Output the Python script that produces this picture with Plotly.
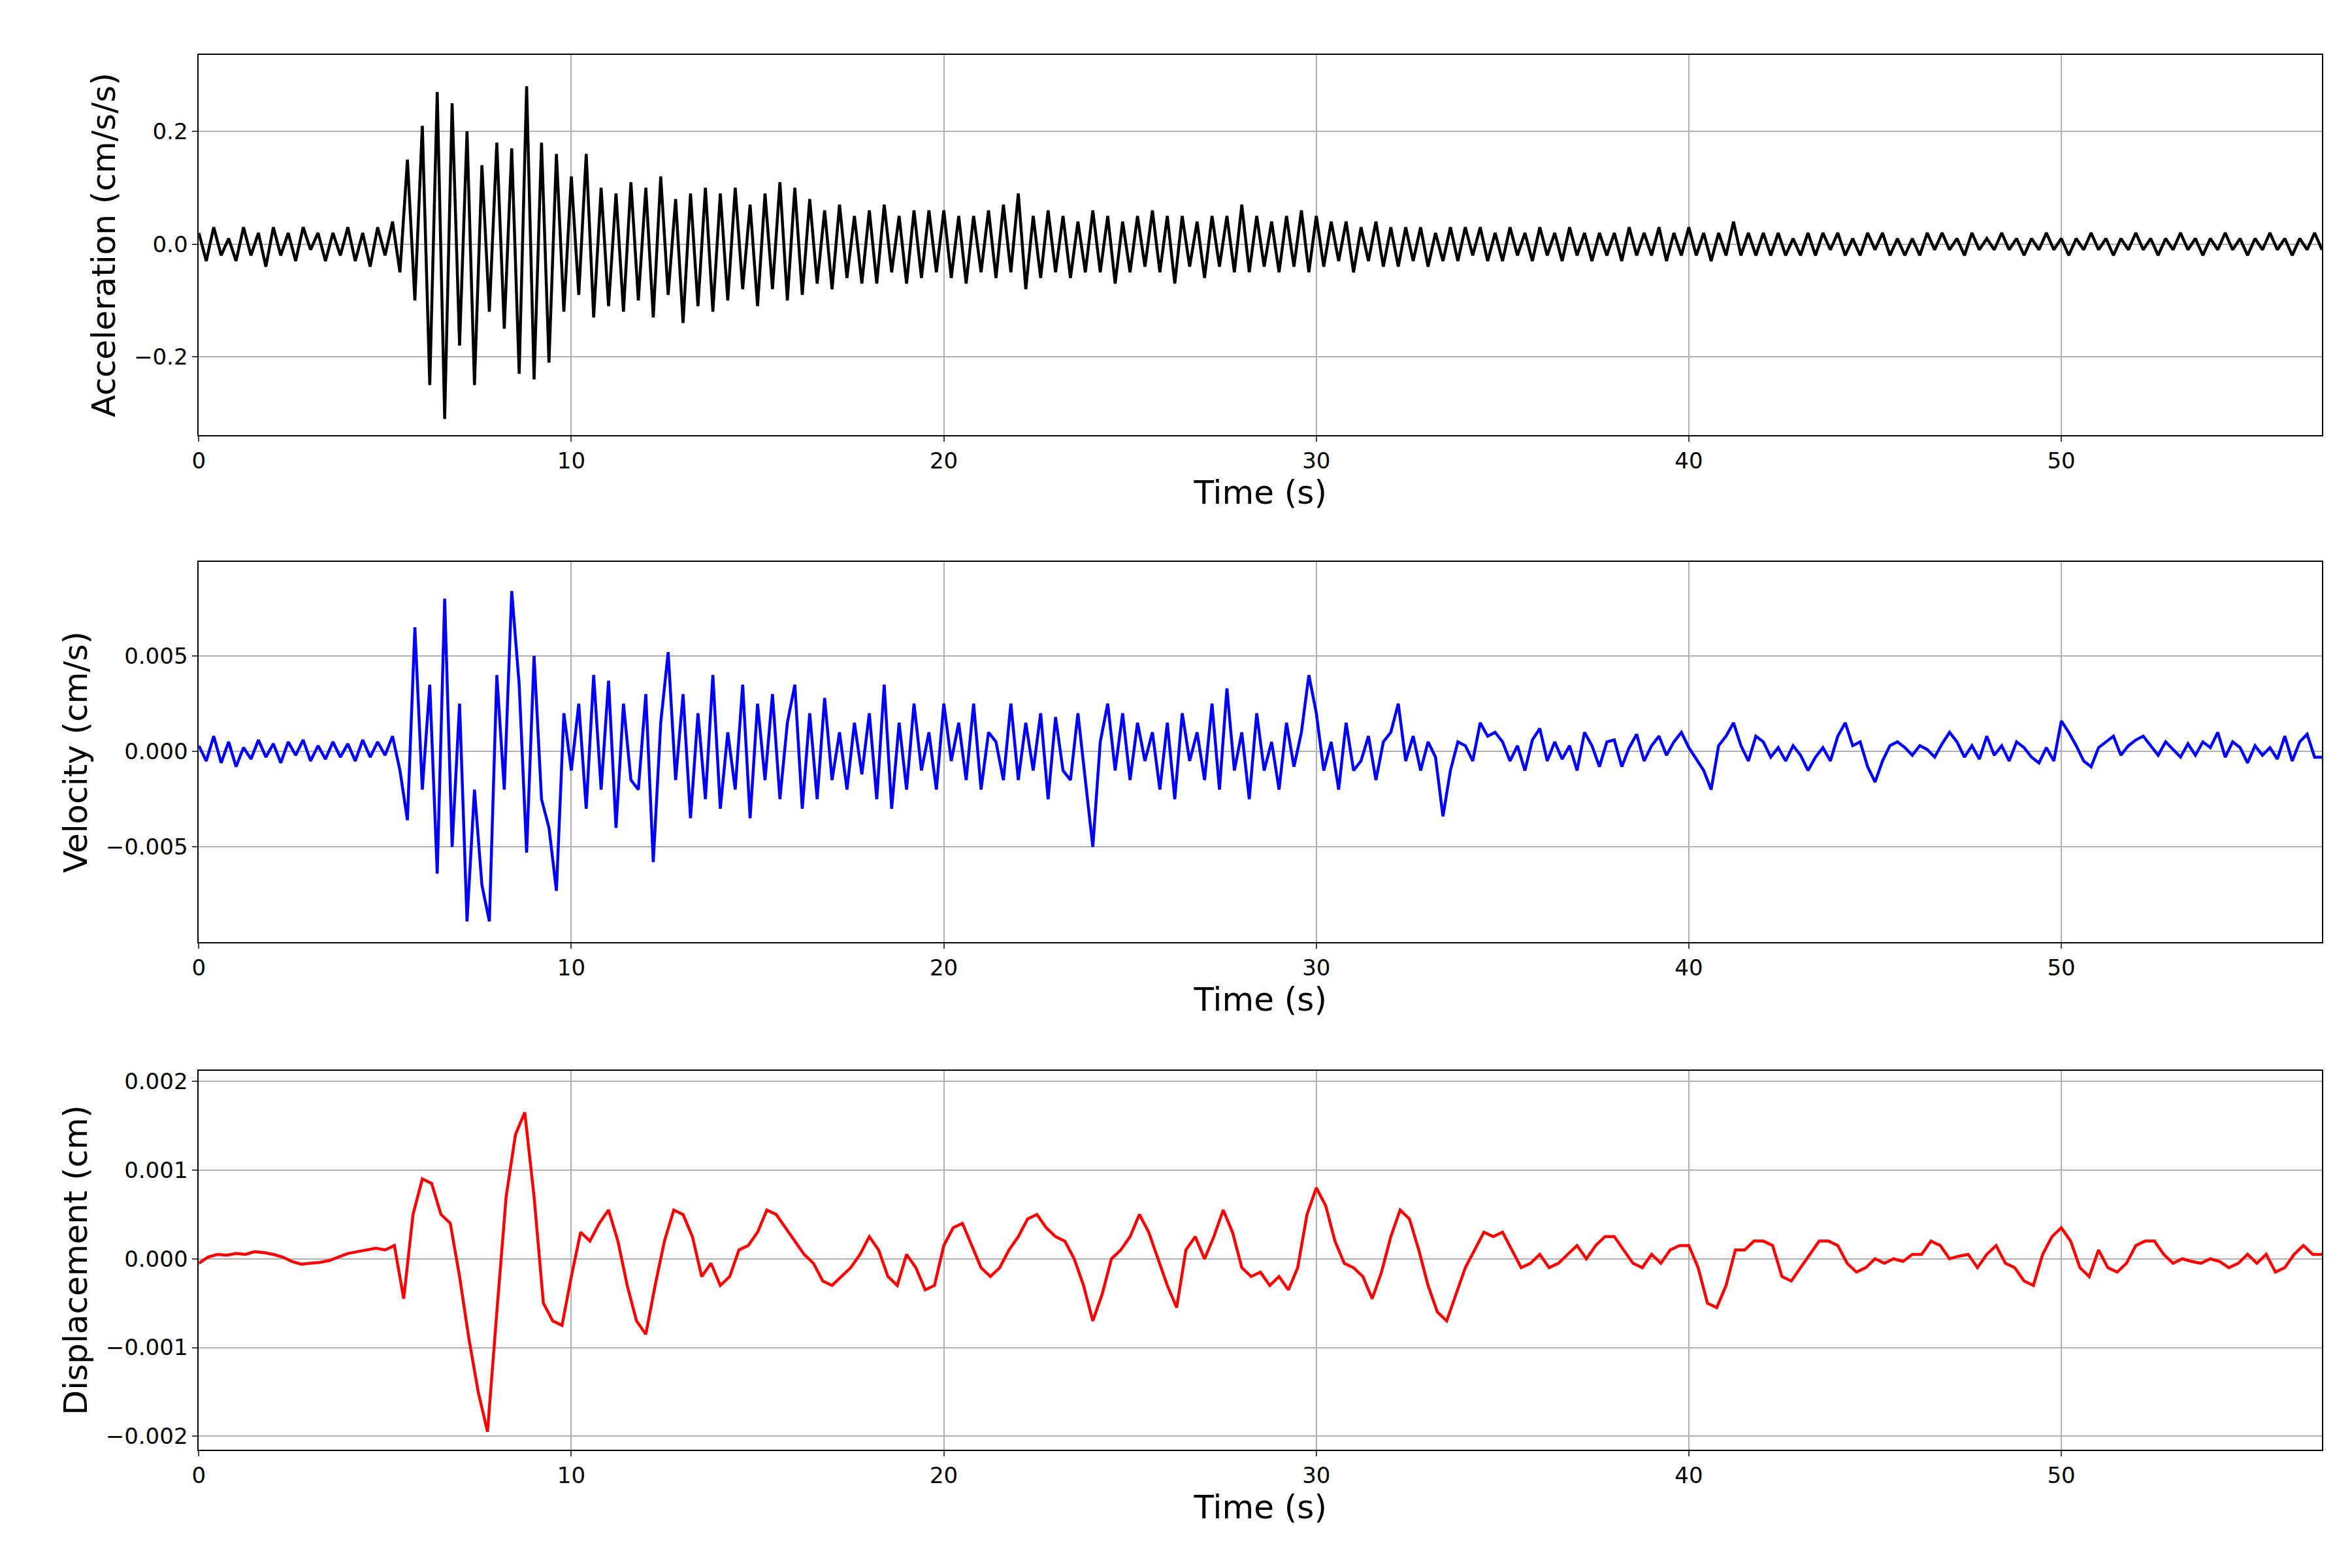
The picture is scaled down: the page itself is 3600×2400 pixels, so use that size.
import numpy as np
import plotly.graph_objects as go

acc = [0.02,-0.03,0.03,-0.02,0.01,-0.03,0.03,-0.02,0.02,-0.04,
0.03,-0.02,0.02,-0.03,0.03,-0.01,0.02,-0.03,0.02,-0.02,
0.03,-0.03,0.02,-0.04,0.03,-0.02,0.04,-0.05,0.15,-0.10,
0.21,-0.25,0.27,-0.31,0.25,-0.18,0.20,-0.25,0.14,-0.12,
0.18,-0.15,0.17,-0.23,0.28,-0.24,0.18,-0.21,0.16,-0.12,
0.12,-0.09,0.16,-0.13,0.10,-0.11,0.09,-0.12,0.11,-0.10,
0.10,-0.13,0.12,-0.09,0.08,-0.14,0.09,-0.11,0.10,-0.12,
0.09,-0.10,0.10,-0.08,0.07,-0.11,0.09,-0.08,0.11,-0.10,
0.10,-0.09,0.08,-0.07,0.06,-0.08,0.07,-0.06,0.05,-0.07,
0.06,-0.07,0.07,-0.05,0.05,-0.07,0.06,-0.06,0.06,-0.05,
0.06,-0.06,0.05,-0.07,0.05,-0.05,0.06,-0.06,0.07,-0.05,
0.09,-0.08,0.05,-0.06,0.06,-0.05,0.05,-0.06,0.04,-0.05,
0.06,-0.05,0.05,-0.07,0.04,-0.05,0.05,-0.04,0.06,-0.05,
0.05,-0.07,0.05,-0.04,0.04,-0.06,0.05,-0.04,0.05,-0.05,
0.07,-0.05,0.05,-0.04,0.04,-0.05,0.05,-0.04,0.06,-0.05,
0.05,-0.04,0.04,-0.03,0.04,-0.05,0.03,-0.03,0.04,-0.04,
0.03,-0.04,0.03,-0.03,0.03,-0.04,0.02,-0.03,0.03,-0.03,
0.03,-0.02,0.03,-0.03,0.02,-0.03,0.03,-0.02,0.02,-0.03,
0.03,-0.02,0.02,-0.03,0.03,-0.02,0.02,-0.03,0.02,-0.02,
0.02,-0.03,0.03,-0.02,0.02,-0.02,0.03,-0.03,0.02,-0.02,
0.03,-0.02,0.02,-0.03,0.02,-0.02,0.04,-0.02,0.02,-0.02,
0.02,-0.02,0.02,-0.02,0.01,-0.02,0.02,-0.02,0.02,-0.01,
0.02,-0.02,0.01,-0.02,0.02,-0.01,0.02,-0.02,0.01,-0.02,
0.01,-0.02,0.02,-0.01,0.02,-0.01,0.01,-0.02,0.02,-0.01,
0.01,-0.01,0.02,-0.01,0.01,-0.02,0.01,-0.01,0.02,-0.01,
0.01,-0.02,0.01,-0.01,0.02,-0.01,0.01,-0.02,0.01,-0.01,
0.02,-0.01,0.01,-0.02,0.01,-0.01,0.02,-0.01,0.01,-0.02,
0.01,-0.01,0.02,-0.01,0.01,-0.02,0.01,-0.01,0.02,-0.01,
0.01,-0.02,0.01,-0.01,0.02,-0.01]

vel_milli = [0.3,-0.5,0.8,-0.6,0.5,-0.8,0.2,-0.4,0.6,-0.3,
0.4,-0.6,0.5,-0.2,0.6,-0.5,0.3,-0.4,0.5,-0.3,
0.4,-0.5,0.6,-0.3,0.5,-0.2,0.8,-1.0,-3.6,6.5,
-2.0,3.5,-6.4,8.0,-5.0,2.5,-8.9,-2.0,-7.0,-8.9,
4.0,-2.0,8.4,3.5,-5.3,5.0,-2.5,-4.0,-7.3,2.0,
-1.0,2.5,-3.0,4.0,-2.0,3.7,-4.0,2.5,-1.5,-2.0,
3.0,-5.8,1.5,5.2,-1.5,3.0,-3.5,2.0,-2.5,4.0,
-3.0,1.0,-2.0,3.5,-3.5,2.5,-1.5,3.0,-2.5,1.5,
3.5,-3.0,2.0,-2.5,2.8,-1.5,1.0,-2.0,1.5,-1.2,
2.0,-2.5,3.5,-3.0,1.5,-2.0,2.5,-1.0,1.0,-2.0,
2.5,-0.5,1.5,-1.5,2.5,-2.0,1.0,0.5,-1.5,2.5,
-1.5,1.5,-1.0,2.0,-2.5,1.8,-1.0,-1.5,2.0,-1.5,
-5.0,0.5,2.5,-1.0,2.0,-1.5,1.5,-0.5,1.0,-2.0,
1.5,-2.5,2.0,-0.5,1.0,-1.5,2.5,-2.0,3.3,-1.0,
1.0,-2.5,2.0,-1.0,0.5,-2.0,1.5,-0.8,1.0,4.0,
2.0,-1.0,0.5,-2.0,1.5,-1.0,-0.5,0.8,-1.5,0.5,
1.0,2.5,-0.5,0.8,-1.0,0.5,-0.3,-3.4,-1.0,0.5,
0.3,-0.5,1.5,0.8,1.0,0.5,-0.5,0.3,-1.0,0.6,
1.2,-0.5,0.5,-0.4,0.3,-1.0,1.0,0.3,-0.8,0.5,
0.6,-0.8,0.2,0.9,-0.5,0.3,0.8,-0.2,0.5,1.0,
0.2,-0.4,-1.0,-2.0,0.3,0.8,1.5,0.3,-0.5,0.8,
0.5,-0.3,0.2,-0.5,0.3,-0.2,-1.0,-0.3,0.2,-0.5,
0.8,1.5,0.3,0.5,-0.8,-1.6,-0.5,0.3,0.5,0.2,
-0.2,0.3,0.1,-0.3,0.4,1.0,0.5,-0.3,0.3,-0.4,
0.8,-0.2,0.3,-0.5,0.5,0.2,-0.3,-0.6,0.2,-0.5,
1.6,1.0,0.3,-0.5,-0.8,0.2,0.5,0.8,-0.2,0.3,
0.6,0.8,0.3,-0.2,0.5,0.1,-0.3,0.4,-0.2,0.5,
0.2,1.0,-0.3,0.5,0.2,-0.6,0.3,-0.2,0.2,-0.4,
0.8,-0.5,0.5,0.9,-0.3,-0.3]

disp_e4 = [-0.5,0.2,0.5,0.4, 0.6,0.5,0.8,0.7, 0.5,0.2,-0.3,-0.6, -0.5,-0.4,-0.2,0.2,
0.6,0.8,1.0,1.2, 1.0,1.5,-4.5,5.0, 9.0,8.5,5.0,4.0, -2.0,-9.0,-15.0,-19.5,
-6.0,7.0,14.0,16.5, 7.0,-5.0,-7.0,-7.5, -2.0,3.0,2.0,4.0, 5.5,2.0,-3.0,-7.0,
-8.5,-3.0,2.0,5.5, 5.0,2.5,-2.0,-0.5, -3.0,-2.0,1.0,1.5, 3.0,5.5,5.0,3.5,
2.0,0.5,-0.5,-2.5, -3.0,-2.0,-1.0,0.5, 2.5,1.0,-2.0,-3.0, 0.5,-1.0,-3.5,-3.0,
1.5,3.5,4.0,1.5, -1.0,-2.0,-1.0,1.0, 2.5,4.5,5.0,3.5, 2.5,2.0,0.0,-3.0,
-7.0,-4.0,0.0,1.0, 2.5,5.0,3.0,0.0, -3.0,-5.5,1.0,2.5, 0.0,2.5,5.5,3.0,
-1.0,-2.0,-1.5,-3.0, -2.0,-3.5,-1.0,5.0, 8.0,6.0,2.0,-0.5, -1.0,-2.0,-4.5,-1.5,
2.5,5.5,4.5,1.0, -3.0,-6.0,-7.0,-4.0, -1.0,1.0,3.0,2.5, 3.0,1.0,-1.0,-0.5,
0.5,-1.0,-0.5,0.5, 1.5,0.0,1.5,2.5, 2.5,1.0,-0.5,-1.0, 0.5,-0.5,1.0,1.5,
1.5,-1.0,-5.0,-5.5, -3.0,1.0,1.0,2.0, 2.0,1.5,-2.0,-2.5, -1.0,0.5,2.0,2.0,
1.5,-0.5,-1.5,-1.0, 0.0,-0.5,0.0,-0.3, 0.5,0.5,2.0,1.5, 0.0,0.3,0.5,-1.0,
0.5,1.5,-0.5,-1.0, -2.5,-3.0,0.5,2.5, 3.5,2.0,-1.0,-2.0, 1.0,-1.0,-1.5,-0.5,
1.5,2.0,2.0,0.5, -0.5,0.0,-0.3,-0.5, 0.0,-0.3,-1.0,-0.5, 0.5,-0.5,0.5,-1.5,
-1.0,0.5,1.5,0.5, 0.5]

t_acc = np.linspace(0, 57, len(acc))
t_vel = np.linspace(0, 57, len(vel_milli))
t_disp = np.linspace(0, 57, len(disp_e4))
vel = np.array(vel_milli) * 1e-3
disp = np.array(disp_e4) * 1e-4

F = "DejaVu Sans"
fig = go.Figure()
fig.add_trace(go.Scatter(x=t_acc, y=acc, mode="lines", line=dict(color="black", width=4.5), xaxis="x", yaxis="y"))
fig.add_trace(go.Scatter(x=t_vel, y=vel, mode="lines", line=dict(color="blue", width=4.5), xaxis="x2", yaxis="y2"))
fig.add_trace(go.Scatter(x=t_disp, y=disp, mode="lines", line=dict(color="red", width=4.5), xaxis="x3", yaxis="y3"))

def xax(anchor):
    return dict(domain=[0.0795, 0.985], range=[0, 57], anchor=anchor, tickvals=[0,10,20,30,40,50],
                showgrid=True, gridcolor="#b0b0b0", gridwidth=2, zeroline=False, showline=True, mirror=True,
                linecolor="black", linewidth=2, ticks="outside", ticklen=8, tickwidth=2,
                tickfont=dict(family=F, size=34, color="black"),
                title=dict(text="Time (s)", font=dict(family=F, size=50, color="black"), standoff=10))

def yax(anchor, dom, rng, tv, fmt, title):
    return dict(domain=dom, range=rng, anchor=anchor, tickvals=tv, tickformat=fmt,
                showgrid=True, gridcolor="#b0b0b0", gridwidth=2, zeroline=False, showline=True, mirror=True,
                linecolor="black", linewidth=2, ticks="outside", ticklen=8, tickwidth=2,
                tickfont=dict(family=F, size=34, color="black"),
                title=dict(text=title, font=dict(family=F, size=50, color="black"), standoff=12))

fig.update_layout(
    width=3600, height=2400, paper_bgcolor="white", plot_bgcolor="white", showlegend=False,
    margin=dict(l=0, r=0, t=0, b=0),
    xaxis=xax("y"), xaxis2=xax("y2"), xaxis3=xax("y3"),
    yaxis=yax("x", [0.727, 0.970], [-0.339, 0.336], [-0.2, 0, 0.2], ".1f", "Acceleration (cm/s/s)"),
    yaxis2=yax("x2", [0.403, 0.646], [-0.0100, 0.00992], [-0.005, 0, 0.005], ".3f", "Velocity (cm/s)"),
    yaxis3=yax("x3", [0.079, 0.321], [-0.00215, 0.00212], [-0.002, -0.001, 0, 0.001, 0.002], ".3f", "Displacement (cm)"),
)
fig.write_html("out.html")
